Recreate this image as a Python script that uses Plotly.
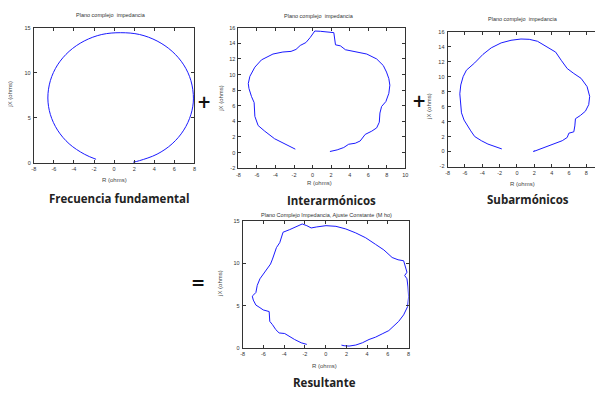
import plotly.graph_objects as go

# ---- data ----
fund_x = [-1.8, -2.97, -4.48, -5.63, -6.35, -6.6, -6.35, -5.63, -4.48, -2.98, -1.23, 0.65,
          2.53, 4.28, 5.78, 6.93, 7.65, 7.9, 7.65, 6.93, 5.78, 4.28, 2.53, 1.9]
fund_y = [0.4, 0.97, 2.12, 3.63, 5.37, 7.2, 9.13, 10.88, 12.38, 13.53, 14.25, 14.45,
          14.25, 13.53, 12.38, 10.88, 9.13, 7.1, 5.37, 3.63, 2.12, 0.97, 0.25, 0.08]

inter_x = [-1.86, -2.85, -4.1, -5.16, -5.87, -6.22, -6.3, -6.58, -6.86, -6.93, -6.76, -6.22,
           -5.51, -4.27, -3.2, -2.32, -1.79, -1.33, -0.72, -0.26, 0.24, 0.87, 2.29, 2.47,
           3.0, 3.54, 4.6, 5.84, 6.91, 7.62, 7.97, 8.22, 8.33, 8.22, 7.9, 7.44, 7.26, 7.19,
           6.91, 6.38, 5.67, 5.13, 4.6, 3.89, 3.36, 2.65, 1.87]
inter_y = [0.44, 1.07, 1.78, 2.75, 3.47, 4.64, 6.41, 7.17, 8.22, 8.85, 9.77, 10.95,
           11.88, 12.63, 12.89, 12.97, 13.22, 13.73, 14.1, 14.74, 15.58, 15.54, 15.37, 13.81,
           13.68, 13.18, 12.97, 12.63, 12.0, 11.16, 10.32, 9.48, 8.64, 7.59, 6.54, 5.91, 5.07, 3.89,
           3.17, 2.75, 2.33, 1.49, 1.2, 1.07, 0.65, 0.35, 0.14]

sub_x = [-1.75, -2.59, -3.35, -4.11, -4.88, -5.33, -5.71, -6.1, -6.4, -6.51, -6.59, -6.48,
         -6.21, -5.83, -4.88, -3.92, -2.97, -1.83, -0.69, 0.46, 1.41, 2.36, 3.5, 4.46,
         5.1, 5.79, 6.55, 7.39, 8.08, 8.38, 8.27, 7.89, 7.31, 6.74, 6.67, 6.55, 5.98, 5.79,
         5.22, 4.46, 4.08, 3.31, 2.74, 2.17, 1.9, 2.0]
sub_y = [0.35, 0.66, 1.0, 1.45, 2.01, 2.76, 3.42, 4.2, 5.17, 6.48, 7.71, 8.89,
         9.99, 10.86, 11.83, 12.97, 13.84, 14.5, 14.85, 15.02, 14.98, 14.72, 13.93, 13.27,
         12.18, 11.08, 10.42, 9.77, 8.67, 7.36, 6.26, 5.39, 4.82, 4.38, 3.42, 2.63, 2.45, 1.88,
         1.45, 1.14, 0.88, 0.66, 0.35, 0.13, 0.0, 0.15]

res_x = [-1.82, -2.36, -3.0, -3.47, -3.95, -4.49, -4.81, -5.13, -5.39, -5.45, -6.02, -6.34,
         -6.73, -6.98, -7.08, -6.73, -6.6, -6.34, -6.02, -5.64, -5.32, -5.13, -4.91, -4.75,
         -4.43, -4.27, -4.11, -3.47, -2.84, -2.26, -1.82, -1.4, -0.86, 0.03, 0.99, 1.94,
         2.9, 3.86, 4.81, 5.61, 6.41, 6.98, 7.52, 7.68, 7.84, 7.62, 7.84, 7.94, 8.0, 7.9,
         7.52, 7.04, 6.57, 6.09, 5.45, 4.81, 4.18, 3.54, 2.9, 2.26, 1.78, 1.52]
res_y = [0.39, 0.58, 0.97, 1.36, 1.68, 1.75, 2.14, 2.73, 3.12, 4.29, 4.48, 4.75,
         5.06, 5.65, 6.12, 6.55, 7.4, 8.18, 8.77, 9.35, 9.93, 10.52, 11.3, 11.88,
         12.47, 13.05, 13.71, 14.02, 14.34, 14.69, 14.49, 14.22, 14.34, 14.49, 14.41, 14.1,
         13.63, 13.05, 12.27, 11.61, 10.71, 10.44, 10.32, 9.74, 8.96, 8.57, 8.18, 7.21, 6.04, 4.87,
         3.9, 3.12, 2.53, 2.03, 1.64, 1.25, 0.97, 0.58, 0.31, 0.19, 0.23, 0.3]

titles = ["Plano complejo  impedancia", "Plano complejo  impedancia",
          "Plano complejo  impedancia", "Plano Complejo Impedancia, Ajuste Constante (M ho)"]
captions = ["Frecuencia fundamental", "Interarmónicos", "Subarmónicos", "Resultante"]
xlab = "R (ohms)"
ylab = "jX (ohms)"

# the page body has an 8px margin, so the figure is drawn 8px in and 8px down
OFF = 8
W, H = 603 - OFF, 393 - OFF
def px(x):
    return (x - OFF) / W
def py(y):
    return 1 - (y - OFF) / H

# panel boxes in reference pixels (left, right, top, bottom)
boxes = [(32, 194, 25, 162.3), (238.3, 406.7, 25, 167.7),
         (449.3, 603, 29, 166), (242.7, 410, 221.7, 350)]
xranges = [[-8, 8], [-8, 10], [-8, 9.57], [-8, 8]]
yranges = [[0, 15], [-2, 16], [-2, 16], [0, 15]]
xticks = [list(range(-8, 9, 2)), list(range(-8, 11, 2)), list(range(-8, 9, 2)), list(range(-8, 9, 2))]
yticks = [[0, 5, 10, 15], list(range(-2, 17, 2)), list(range(-2, 17, 2)), [0, 5, 10, 15]]
series = [(fund_x, fund_y, "spline"), (inter_x, inter_y, "linear"),
          (sub_x, sub_y, "linear"), (res_x, res_y, "linear")]

fig = go.Figure()
layout = dict(width=W, height=H, autosize=False, margin=dict(l=0, r=0, t=0, b=0, pad=0),
              paper_bgcolor="white", plot_bgcolor="white", showlegend=False)
ann = []
tf = dict(size=5.5, color="#333", family="Liberation Sans")
for i in range(4):
    n = "" if i == 0 else str(i + 1)
    xs, ys, shape = series[i]
    fig.add_trace(go.Scatter(x=xs, y=ys, mode="lines", xaxis="x" + n, yaxis="y" + n,
                             line=dict(color="#1a1aff", width=1, shape=shape), hoverinfo="skip"))
    l, r, t, b = boxes[i]
    common = dict(showline=True, mirror="ticks", linecolor="#333", linewidth=1,
                  ticks="inside", ticklen=3, tickcolor="#333", showgrid=False, zeroline=False,
                  tickfont=tf)
    layout["xaxis" + n] = dict(common, domain=[px(l), min(px(r), 1)], range=xranges[i], anchor="y" + n,
                               tickvals=xticks[i], ticktext=[str(v) for v in xticks[i]],
                               ticklabelstandoff=1)
    layout["yaxis" + n] = dict(common, domain=[py(b), py(t)], range=yranges[i], anchor="x" + n,
                               tickvals=yticks[i], ticktext=[str(v) for v in yticks[i]],
                               ticklabelstandoff=1)

def add(text, x, y, size, color, family, angle=0):
    ann.append(dict(text=text, x=px(x), y=py(y), xref="paper", yref="paper", showarrow=False,
                    xanchor="center", yanchor="middle", textangle=angle,
                    font=dict(size=size, color=color, family=family)))

# panel titles
for (x, y), t in zip([(110, 12), (320, 13), (525, 16), (327, 215)], titles):
    add(t, x, y, 5.5, "#333", "Liberation Sans")
# axis titles
for (x, y) in [(113, 180), (320, 183), (525, 184), (325, 369)]:
    add(xlab, x, y, 6, "#444", "Liberation Sans")
for (x, y) in [(8, 93), (220, 97), (431, 105), (219, 285)]:
    add(ylab, x, y, 6, "#444", "Liberation Sans", -90)
# captions
for (x, y), c in zip([(118, 198), (332, 200), (530, 199), (325, 385)], captions):
    add("<b>" + c + "</b>", x, y, 11.5, "#222", "Open Sans")
# operators
for (x, y), s in zip([(204, 100), (420, 99), (198, 284)], ["+", "+", "="]):
    add("<b>" + s + "</b>", x, y, 17, "#111", "DejaVu Sans")

layout["annotations"] = ann
fig.update_layout(**layout)
fig.write_html("out.html")
